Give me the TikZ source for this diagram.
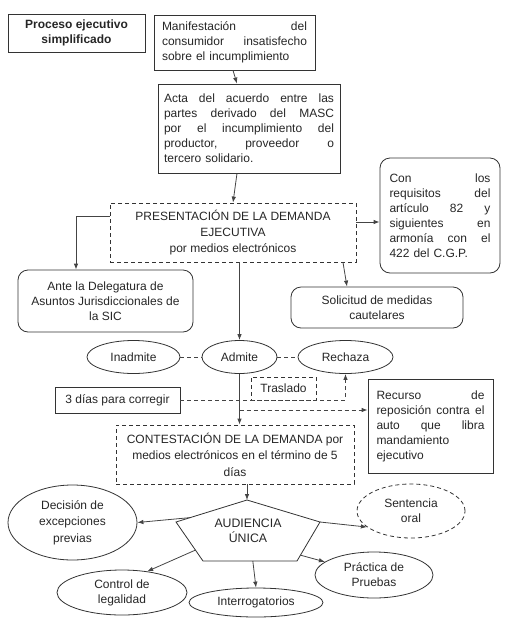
\documentclass[tikz,border=0pt]{standalone}
\usepackage{fontspec}
\setmainfont{Liberation Sans}
\usetikzlibrary{shapes.geometric,arrows.meta,calc}
\definecolor{boxcol}{HTML}{333333}
\definecolor{linecol}{HTML}{444444}
% one justified line of a box: width, words split by \hfill
\newcommand{\jline}[2]{\makebox[#1][l]{#2}}

\begin{document}
\begin{tikzpicture}[x=1pt,y=-1pt,
  every node/.style={font=\fontsize{12}{15}\selectfont, inner sep=0pt, text=black!85},
  box/.style={draw=boxcol, line width=0.8pt, rectangle, align=center},
  rbox/.style={box, rounded corners=10pt},
  dbox/.style={box, dash pattern=on 4pt off 3pt},
  oval/.style={draw=boxcol, line width=0.8pt, ellipse, align=center},
  arr/.style={draw=linecol, line width=0.8pt, -{Latex[length=6pt,width=4.5pt]}},
  darr/.style={arr, dash pattern=on 4pt off 3pt},
  dline/.style={draw=linecol, line width=0.8pt, dash pattern=on 4pt off 3pt}]
  \useasboundingbox (0,0) rectangle (510,625);

  % Top boxes
  \node[box, minimum width=137pt, minimum height=38pt, font=\fontsize{12}{15}\selectfont\bfseries] (proc) at (76.5,33) {Proceso ejecutivo\\simplificado};
  \node[box, minimum width=161pt, minimum height=55pt, text width=145pt, align=left] (man) at (234.5,42.5)
    {\jline{145pt}{Manifestación\hfill del}\\\jline{145pt}{consumidor\hfill insatisfecho}\\sobre el incumplimiento};
  \node[box, minimum width=182pt, minimum height=89pt, text width=170pt, align=left] (acta) at (249,128.5)
    {\jline{170pt}{Acta\hfill del\hfill acuerdo\hfill entre\hfill las}\\
     \jline{170pt}{partes\hfill derivado\hfill del\hfill MASC}\\
     \jline{170pt}{por\hfill el\hfill incumplimiento\hfill del}\\
     \jline{170pt}{productor,\hfill proveedor\hfill o}\\tercero solidario.};

  % Demanda and its branches
  \node[dbox, minimum width=246pt, minimum height=59pt, font=\fontsize{12}{16}\selectfont] (pres) at (233,232.5)
    {PRESENTACIÓN DE LA DEMANDA\\EJECUTIVA\\por medios electrónicos};
  \node[rbox, minimum width=120pt, minimum height=115pt, text width=101pt, align=left] (con) at (440,215.5)
    {\jline{101pt}{Con\hfill los}\\\jline{101pt}{requisitos\hfill del}\\\jline{101pt}{artículo\hfill 82\hfill y}\\
     \jline{101pt}{siguientes\hfill en}\\\jline{101pt}{armonía\hfill con\hfill el}\\422 del C.G.P.};
  \node[rbox, minimum width=175pt, minimum height=62pt] (ante) at (105.5,301)
    {Ante la Delegatura de\\Asuntos Jurisdiccionales de\\la SIC};
  \node[rbox, minimum width=172pt, minimum height=41pt] (sol) at (377,307.5)
    {Solicitud de medidas\\cautelares};

  % Admision
  \node[oval, minimum width=93pt, minimum height=33pt] (inad) at (133.5,357) {Inadmite};
  \node[oval, minimum width=75pt, minimum height=33pt] (adm) at (239.5,357) {Admite};
  \node[oval, minimum width=95pt, minimum height=33pt] (rech) at (345.5,357) {Rechaza};
  \node[dbox, minimum width=65pt, minimum height=23pt] (tras) at (283.5,388.5) {Traslado};
  \node[box, minimum width=125pt, minimum height=26pt] (dias) at (117.5,400) {3 días para corregir};
  \node[box, minimum width=125pt, minimum height=94pt, text width=108pt, align=left] (rec) at (430.5,426)
    {\jline{108pt}{Recurso\hfill de}\\\jline{108pt}{reposición\hfill contra\hfill el}\\
     \jline{108pt}{auto\hfill que\hfill libra}\\mandamiento\\ejecutivo};
  \node[dbox, minimum width=238pt, minimum height=59pt, font=\fontsize{12}{16.5}\selectfont] (cont) at (235,454.5)
    {CONTESTACIÓN DE LA DEMANDA por\\medios electrónicos en el término de 5\\días};

  % Audiencia
  \coordinate (pt) at (247,500);
  \coordinate (pr) at (320,522);
  \coordinate (pbr) at (297,561);
  \coordinate (pbl) at (203,561);
  \coordinate (pl) at (176,522);
  \draw[draw=boxcol, line width=0.8pt] (pt) -- (pr) -- (pbr) -- (pbl) -- (pl) -- cycle;
  \node[font=\fontsize{12.3}{15}\selectfont, align=center] (aud) at (248,531) {AUDIENCIA\\ÚNICA};

  \node[oval, minimum width=129pt, minimum height=75pt, font=\fontsize{12}{16.5}\selectfont] (dec) at (72.5,522.5) {Decisión de\\excepciones\\previas};
  \node[oval, dash pattern=on 4pt off 3pt, minimum width=108pt, minimum height=54pt] (sen) at (411,511) {Sentencia\\oral};
  \node[oval, minimum width=130pt, minimum height=45pt] (ctl) at (122,592.5) {Control de\\legalidad};
  \node[oval, minimum width=134pt, minimum height=29pt] (int) at (256,602.5) {Interrogatorios};
  \node[oval, minimum width=118pt, minimum height=46pt] (pra) at (374,575) {Práctica de\\Pruebas};

  % Connectors
  \coordinate (lvcon) at (0,222);
  \coordinate (lvante) at (0,216);
  \coordinate (lvrec) at (0,410);
  \draw[arr] ([xshift=-1.5pt]man.south) -- ([xshift=-12pt]acta.north);
  \draw[arr] ([xshift=-12pt]acta.south) -- (pres.north);
  \draw[arr] (pres.west |- lvante) -| ([xshift=-29.5pt]ante.north);
  \draw[arr] (pres.east |- lvcon) -- (con.west |- lvcon);
  \draw[arr] ([xshift=110pt]pres.south) -- ([xshift=-30pt]sol.north);
  \draw[arr] (adm.north |- pres.south) -- (adm.north);
  \draw[dline] (inad) -- (adm);
  \draw[dline] (adm) -- (rech);
  \draw[arr] (adm.south) -- (adm.south |- cont.north);
  \draw[darr] (dias.east) -| (rech.south);
  \coordinate (split) at (adm.south |- lvrec);
  \draw[darr] (split) -- (rec.west |- split);
  \draw[arr] (pt |- cont.south) -- (pt);

  % From the audiencia
  \coordinate (pdec) at ($(pl)!0.2!(pt)$);
  \coordinate (pctl) at ($(pl)!0.72!(pbl)$);
  \coordinate (pint) at ($(pbl)!0.53!(pbr)$);
  \coordinate (ppra) at ($(pbr)!0.15!(pr)$);
  \draw[arr] (pdec) -- (dec.east);
  \draw[arr] (pr) -- (sen.200);
  \draw[arr] (pctl) -- (ctl.40);
  \draw[arr] (pint) -- (int.north);
  \draw[arr] (ppra) -- (pra.165);
\end{tikzpicture}
\end{document}
